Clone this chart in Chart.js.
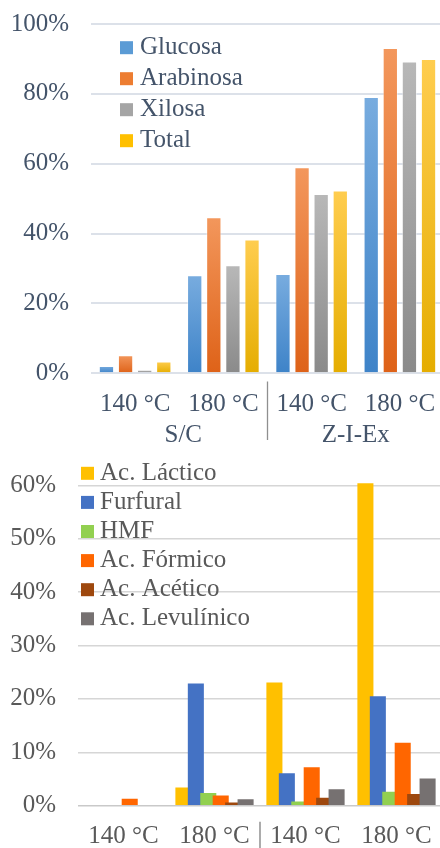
<!DOCTYPE html>
<html>
<head>
<meta charset="utf-8">
<script src="https://cdn.jsdelivr.net/npm/chart.js@4/dist/chart.umd.min.js"></script>
<style>
  html, body { margin: 0; padding: 0; background: #fff; width: 440px; height: 848px; overflow: hidden; }
  #sugars { position: absolute; left: 0; top: 0; }
  #byproductsWrap { position: absolute; left: 0; top: 450px; width: 440px; height: 398px; overflow: hidden; }
  #byproducts { position: absolute; left: 0; top: -30px; }
</style>
</head>
<body>
<canvas id="sugars" width="444" height="450"></canvas>
<div id="byproductsWrap"><canvas id="byproducts" width="442" height="440"></canvas></div>
<script>
// ---- data ----
const categories = ['140 °C', '180 °C', '140 °C', '180 °C'];
const groups = ['S/C', 'Z-I-Ex'];

// sugar yields (%)
const sugarNames = ['Glucosa', 'Arabinosa', 'Xilosa', 'Total'];
const glucosa   = [2.1, 28.1, 28.4, 79.1];
const arabinosa = [5.2, 44.7, 59.0, 93.1];
const xilosa    = [1.0, 30.9, 51.3, 89.3];
const total     = [3.4, 38.3, 52.3, 90.0];
const sugarTicks = [0, 20, 40, 60, 80, 100];

// by-products (%)
const byNames = ['Ac. Láctico', 'Furfural', 'HMF', 'Ac. Fórmico', 'Ac. Acético', 'Ac. Levulínico'];
const lactico    = [0, 3.4, 23.1, 60.4];
const furfural   = [0, 22.9, 6.1, 20.5];
const hmf        = [0, 2.4, 0.8, 2.6];
const formico    = [1.3, 1.9, 7.2, 11.8];
const acetico    = [0, 0.6, 1.5, 2.2];
const levulinico = [0, 1.2, 3.1, 5.1];
const byTicks = [0, 10, 20, 30, 40, 50, 60, 70];

// ---- styling ----
const SERIF = "'Liberation Serif', 'Times New Roman', serif";
const SLATE = '#44546a';
const GREY_TEXT = '#595959';

const sugarSolid = ['#5b9bd5', '#ed7d31', '#a5a5a5', '#ffc000'];
const sugarLight = ['#78acdf', '#f3975c', '#b8b8b8', '#ffcd4f'];
const sugarDark  = ['#3e83c8', '#de6218', '#8a8a8a', '#e5ad00'];
const byColors = ['#ffc000', '#4472c4', '#92d050', '#ff6600', '#9e480e', '#767171'];

// vertical gradient per bar, lighter at the top
function barGradient(light, dark) {
  return (c) => {
    const chart = c.chart;
    const y = chart.scales && chart.scales.y;
    if (c.type !== 'data' || !y) return dark;
    const v = c.parsed ? c.parsed.y : c.raw;
    const yTop = y.getPixelForValue(v);
    const yBase = y.getPixelForValue(0);
    if (!isFinite(yTop) || !isFinite(yBase) || Math.abs(yBase - yTop) < 0.5) return dark;
    const g = chart.ctx.createLinearGradient(0, yTop, 0, yBase);
    g.addColorStop(0, light);
    g.addColorStop(1, dark);
    return g;
  };
}

// fixed axis sizes so the plot area sits where it should
function fixWidth(w) {
  return (s) => { s.width = w; s.paddingTop = 0; s.paddingBottom = 0; };
}
function fixHeight(h) {
  return (s) => { s.height = h; s.paddingLeft = 0; s.paddingRight = 0; };
}

// legend drawn inside the plot area
const insideLegend = {
  id: 'insideLegend',
  afterDraw(chart, args, o) {
    const ctx = chart.ctx;
    ctx.save();
    ctx.font = o.font;
    ctx.textBaseline = 'middle';
    ctx.textAlign = 'left';
    chart.data.datasets.forEach((ds, i) => {
      const cy = o.y + i * o.spacing;
      ctx.fillStyle = o.colors[i];
      ctx.fillRect(o.x, cy - o.box / 2, o.box, o.box);
      ctx.fillStyle = o.color;
      ctx.fillText(ds.label, o.x + o.box + o.gap, cy);
    });
    ctx.restore();
  }
};

// group separator and group captions under the category labels
const groupAxis = {
  id: 'groupAxis',
  afterDraw(chart, args, o) {
    const x = chart.scales.x;
    const ctx = chart.ctx;
    const sep = (x.getPixelForValue(1) + x.getPixelForValue(2)) / 2;
    ctx.save();
    ctx.strokeStyle = o.lineColor;
    ctx.lineWidth = 1.3;
    ctx.beginPath();
    ctx.moveTo(sep, o.lineTop);
    ctx.lineTo(sep, o.lineBottom);
    ctx.stroke();
    if (o.labels) {
      ctx.font = o.font;
      ctx.fillStyle = o.color;
      ctx.textAlign = 'center';
      ctx.textBaseline = 'alphabetic';
      o.labels.forEach((t, g) => {
        const cx = (x.getPixelForValue(2 * g) + x.getPixelForValue(2 * g + 1)) / 2;
        ctx.fillText(t, cx + o.labelShift[g], o.labelY);
      });
    }
    ctx.restore();
  }
};

// overlapping bars: later series are painted over earlier ones
const paintInSeriesOrder = {
  id: 'paintInSeriesOrder',
  beforeDatasetsDraw(chart) {
    const metas = chart.getSortedVisibleDatasetMetas();
    const a = chart.chartArea;
    const ctx = chart.ctx;
    ctx.save();
    ctx.beginPath();
    ctx.rect(a.left, a.top, a.right - a.left, a.bottom - a.top);
    ctx.clip();
    metas.forEach(m => m.controller.draw());
    ctx.restore();
    return false;
  }
};

// ---- sugars chart ----
const sugarSeries = [glucosa, arabinosa, xilosa, total];
new Chart(document.getElementById('sugars'), {
  type: 'bar',
  data: {
    labels: categories,
    datasets: sugarSeries.map((d, i) => ({
      label: sugarNames[i],
      data: d,
      backgroundColor: barGradient(sugarLight[i], sugarDark[i]),
      borderColor: 'rgba(255,255,255,0.45)',
      borderWidth: 1,
      borderSkipped: 'bottom',
      categoryPercentage: 0.866,
      barPercentage: 0.8
    }))
  },
  options: {
    responsive: false,
    animation: false,
    events: [],
    layout: { padding: { top: 24, left: 0, right: 0, bottom: 0 } },
    plugins: {
      legend: { display: false },
      tooltip: { enabled: false },
      insideLegend: { x: 120, y: 47.7, spacing: 31, box: 13, gap: 7, font: '25px ' + SERIF, color: SLATE, colors: sugarSolid },
      groupAxis: { lineTop: 381.5, lineBottom: 440, lineColor: '#8f8f8f', labels: groups, labelShift: [4, 0], labelY: 441.5, font: '25px ' + SERIF, color: SLATE }
    },
    scales: {
      x: {
        grid: { display: false, drawTicks: false },
        border: { display: false },
        ticks: { font: { family: SERIF, size: 25 }, color: SLATE, padding: 16.5, maxRotation: 0, autoSkip: false },
        afterFit: fixHeight(76.7)
      },
      y: {
        min: 0, max: 100,
        afterBuildTicks: (s) => { s.ticks = sugarTicks.map(v => ({ value: v })); },
        grid: { color: '#dce1e9', lineWidth: 2, drawTicks: false },
        border: { display: false },
        ticks: { font: { family: SERIF, size: 25 }, color: SLATE, padding: 22, callback: (v) => v + '%' },
        afterFit: fixWidth(91)
      }
    }
  },
  plugins: [insideLegend, groupAxis]
});

// ---- by-products chart ----
const bySeries = [lactico, furfural, hmf, formico, acetico, levulinico];
new Chart(document.getElementById('byproducts'), {
  type: 'bar',
  data: {
    labels: categories,
    datasets: bySeries.map((d, i) => ({
      label: byNames[i],
      data: d,
      backgroundColor: byColors[i],
      borderWidth: 0,
      categoryPercentage: 0.82,
      barPercentage: 1.29
    }))
  },
  options: {
    responsive: false,
    animation: false,
    events: [],
    layout: { padding: { top: 12, left: 0, right: 0, bottom: 0 } },
    plugins: {
      legend: { display: false },
      tooltip: { enabled: false },
      insideLegend: { x: 81, y: 53.3, spacing: 29.1, box: 13, gap: 6, font: '25px ' + SERIF, color: GREY_TEXT, colors: byColors },
      groupAxis: { lineTop: 401.7, lineBottom: 440, lineColor: '#7f7f7f' }
    },
    scales: {
      x: {
        grid: { display: false, drawTicks: false },
        border: { display: false },
        ticks: { font: { family: SERIF, size: 25 }, color: GREY_TEXT, padding: 15.7, maxRotation: 0, autoSkip: false },
        afterFit: fixHeight(54.3)
      },
      y: {
        min: 0, max: 70,
        afterBuildTicks: (s) => { s.ticks = byTicks.map(v => ({ value: v })); },
        grid: { color: (c) => (c.tick && c.tick.value === 0 ? '#c9c9c9' : '#d6d6d6'), lineWidth: 1.6, drawTicks: false },
        border: { display: false },
        ticks: { font: { family: SERIF, size: 25 }, color: GREY_TEXT, padding: 22, callback: (v) => v + '%' },
        afterFit: fixWidth(78)
      }
    }
  },
  plugins: [paintInSeriesOrder, insideLegend, groupAxis]
});
</script>
</body>
</html>
